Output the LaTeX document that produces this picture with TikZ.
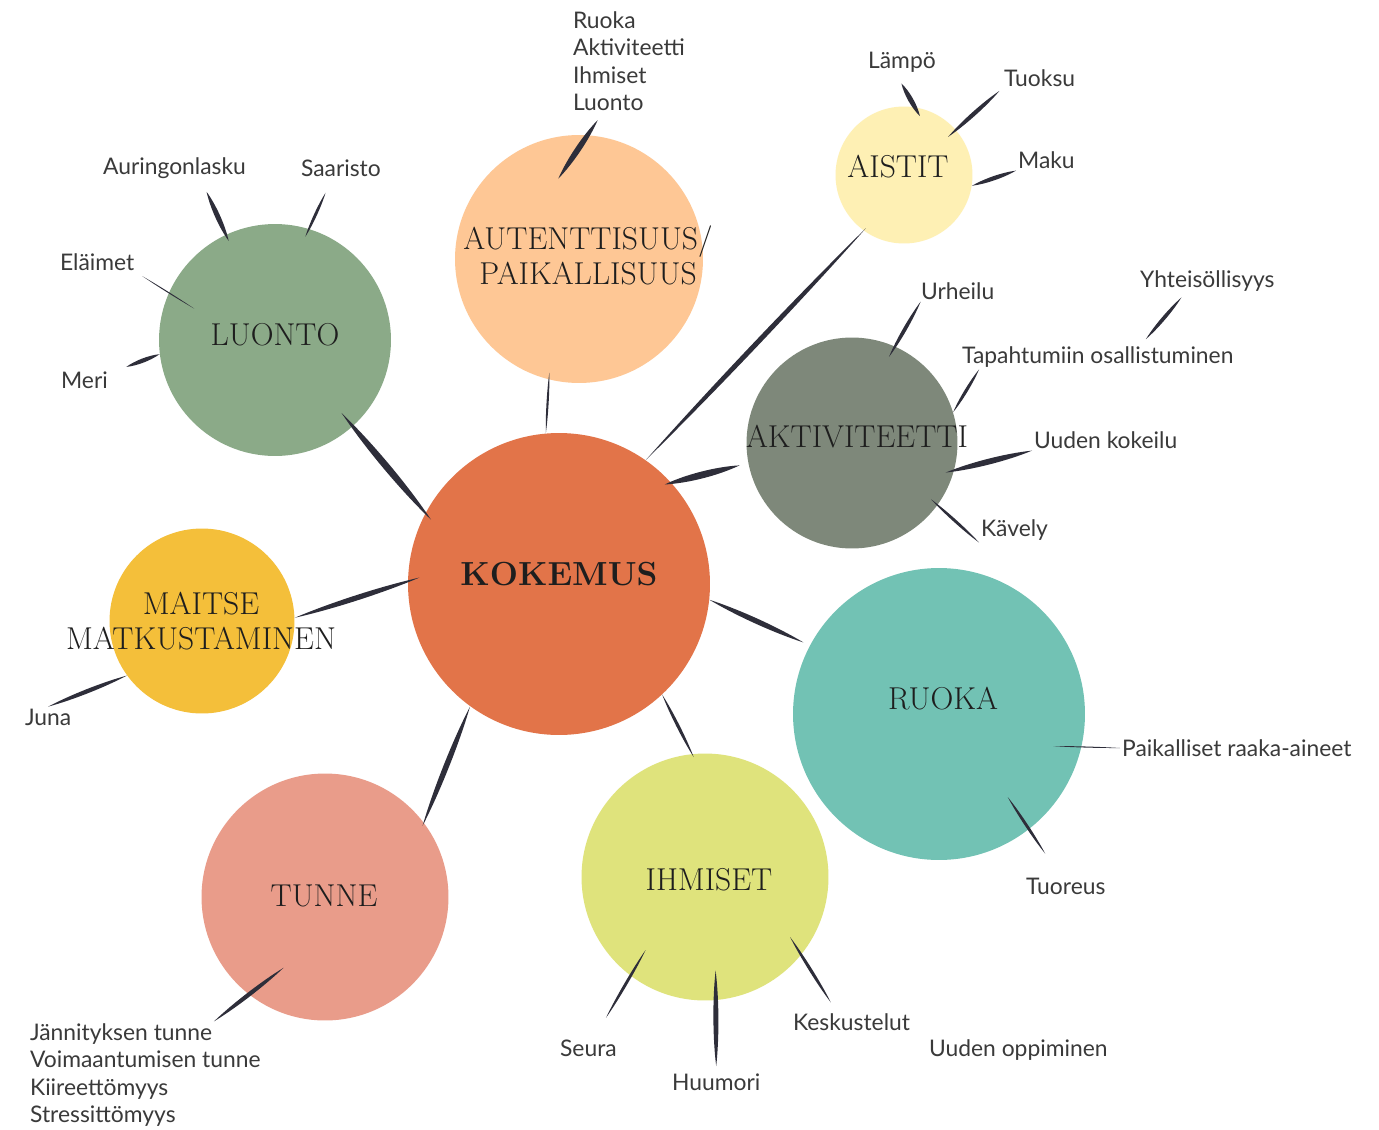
\documentclass[tikz,border=0pt]{standalone}
\usepackage{fontspec}
\newfontfamily\lblfamily{Lato}
\usetikzlibrary{calc}

\definecolor{ink}{HTML}{2E2E3A}
\definecolor{lbltext}{HTML}{3A3A3A}
\definecolor{titletext}{HTML}{1E1E1E}
\definecolor{kokcol}{HTML}{E27449}
\definecolor{luocol}{HTML}{8BAA88}
\definecolor{autcol}{HTML}{FEC795}
\definecolor{aiscol}{HTML}{FEF0B4}
\definecolor{aktcol}{HTML}{7E887A}
\definecolor{maicol}{HTML}{F4BF3A}
\definecolor{ruocol}{HTML}{72C2B4}
\definecolor{ihmcol}{HTML}{DFE37C}
\definecolor{tuncol}{HTML}{E99C8A}

% brush stroke: from, pull-back, to, pull-back, half width
\newcommand{\brush}[5]{%
  \path ($(#1)!#2!(#3)$) coordinate (br-a) ($(#3)!#4!(#1)$) coordinate (br-b);
  \fill[ink] (br-a) .. controls ($(br-a)!0.3!(br-b)!#5!90:(br-b)$) and ($(br-a)!0.7!(br-b)!#5!90:(br-b)$) .. (br-b)
    .. controls ($(br-a)!0.7!(br-b)!#5!-90:(br-b)$) and ($(br-a)!0.3!(br-b)!#5!-90:(br-b)$) .. (br-a) -- cycle;}

\tikzset{
  bubble/.style={circle, inner sep=0pt, minimum size=#1},
  title/.style={font=\fontsize{18}{20}\selectfont, text=titletext, align=center, inner sep=0pt},
  lbl/.style={font=\lblfamily\fontsize{13}{15.6}\selectfont, text=lbltext, anchor=west, inner sep=1pt, align=left},
}

\begin{document}
\begin{tikzpicture}[x=0.02cm, y=-0.02cm]
    \useasboundingbox[fill=white] (0,0) rectangle (1379,1129);
    % circles
    \node[bubble=6.04cm, fill=kokcol] (kok) at (559,584) {};
    \node[bubble=4.64cm, fill=luocol] (luo) at (275,340) {};
    \node[bubble=4.96cm, fill=autcol] (aut) at (579,259) {};
    \node[bubble=2.74cm, fill=aiscol] (ais) at (904,175) {};
    \node[bubble=4.22cm, fill=aktcol] (akt) at (852,443) {};
    \node[bubble=3.70cm, fill=maicol] (mai) at (202,621) {};
    \node[bubble=5.84cm, fill=ruocol] (ruo) at (939,714) {};
    \node[bubble=4.94cm, fill=ihmcol] (ihm) at (705,877) {};
    \node[bubble=4.94cm, fill=tuncol] (tun) at (325,897) {};

    % labels
    \node[lbl] (autlist) at (571,61) {Ruoka\\Aktiviteetti\\Ihmiset\\Luonto};
    \node[lbl] (lampo) at (866,62) {Lämpö};
    \node[lbl] (tuoksu) at (1002,78) {Tuoksu};
    \node[lbl] (maku) at (1016,160) {Maku};
    \node[lbl] (aur) at (101,168) {Auringonlasku};
    \node[lbl] (saa) at (299,168) {Saaristo};
    \node[lbl] (elaimet) at (58,262) {Eläimet};
    \node[lbl] (meri) at (59,380) {Meri};
    \node[lbl] (urh) at (919,291) {Urheilu};
    \node[lbl] (yht) at (1138,281) {Yhteisöllisyys};
    \node[lbl] (tap) at (960,357) {Tapahtumiin osallistuminen};
    \node[lbl] (uk) at (1032,440) {Uuden kokeilu};
    \node[lbl] (kav) at (979,530) {Kävely};
    \node[lbl] (juna) at (23,717) {Juna};
    \node[lbl] (pai) at (1120,748) {Paikalliset raaka-aineet};
    \node[lbl] (tuo) at (1024,886) {Tuoreus};
    \node[lbl] (seura) at (558,1048) {Seura};
    \node[lbl] (hum) at (670,1082) {Huumori};
    \node[lbl] (kes) at (791,1022) {Keskustelut};
    \node[lbl] (uop) at (927,1050) {Uuden oppiminen};
    \node[lbl] (tunlist) at (28,1075) {Jännityksen tunne\\Voimaantumisen tunne\\Kiireettömyys\\Stressittömyys};

    % strokes between circles
    \foreach \a/\ea/\b/\eb/\w in {kok.152/-5pt/luo.-48/-10pt/2.6pt, kok.95/0pt/aut.-104/-4pt/0.8pt,
        kok.55/0pt/ais.-126/-2pt/1.9pt, kok.42/-4pt/akt.-169/5pt/2.6pt, kok.179/-7pt/mai.2/0pt/2pt,
        kok.-6/0pt/ruo.152/4pt/2pt, kok.-47/0pt/ihm.96/-2pt/1.2pt, kok.-126/0pt/tun.37/-2pt/2.1pt}
    {
        \brush{\a}{\ea}{\b}{\eb}{\w}
    }
    % strokes to labels
    \foreach \a/\ea/\b/\eb/\w in {autlist.-117/5pt/aut.86/-30pt/2.2pt, lampo.-115/6pt/ais.81/-6pt/1.9pt,
        tuoksu.south west/2pt/ais.41/-6pt/1.6pt, maku.south west/0pt/ais.-9/0pt/1.6pt,
        aur.-25/7pt/luo.115/-4pt/1.9pt, saa.-130/9pt/luo.73/-5pt/1.1pt,
        elaimet.-15/4pt/luo.156/-17pt/0.4pt, meri.15/10pt/luo.-173/0pt/1.6pt,
        urh.-164/0pt/akt.66/-7pt/1.4pt, yht.-151/3pt/tap.16/4pt/1.4pt,
        tap.-174/0pt/akt.17/0pt/1.2pt, uk.south west/0pt/akt.-15/-5pt/2.2pt,
        kav.south west/0pt/akt.-36/-5pt/1.1pt, juna.north/0pt/mai.-144/0pt/1.6pt,
        pai.west/0pt/ruo.-13/-16pt/0.4pt, tuo.120/15pt/ruo.-52/-22pt/1.1pt,
        seura.60/13pt/ihm.-127/-17pt/1.1pt, hum.north/3pt/ihm.-85/-17pt/1.9pt,
        kes.145/6pt/ihm.-39/-12pt/1.2pt, tunlist.38/0pt/tun.-128/-25pt/1.6pt}
    {
        \brush{\a}{\ea}{\b}{\eb}{\w}
    }

    % titles
    \node[title, font=\fontsize{19}{24}\selectfont\bfseries] (kok-t) at (559,574) {KOKEMUS};
    \node[title] (luo-t) at (275,335) {LUONTO};
    \node[title] (aut-t) at (588,255) {AUTENTTISUUS/\\PAIKALLISUUS};
    \node[title] (ais-t) at (898,167) {AISTIT};
    \node[title] (akt-t) at (857,437) {AKTIVITEETTI};
    \node[title] (mai-t) at (201,621) {MAITSE\\MATKUSTAMINEN};
    \node[title] (ruo-t) at (943,699) {RUOKA};
    \node[title] (ihm-t) at (709,880) {IHMISET};
    \node[title] (tun-t) at (324,896) {TUNNE};
\end{tikzpicture}
\end{document}
